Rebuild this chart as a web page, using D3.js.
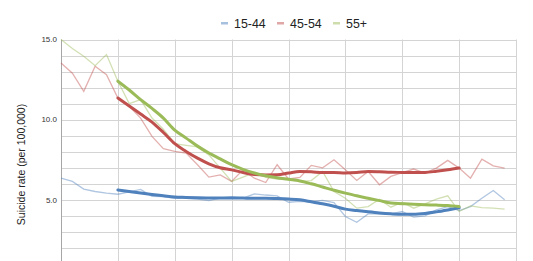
<!DOCTYPE html>
<html>
<head>
<meta charset="utf-8">
<script src="https://cdn.jsdelivr.net/npm/d3@7"></script>
<style>
  html, body { margin: 0; padding: 0; background: #fff; overflow: hidden; }
  svg { display: block; font-family: "Liberation Sans", Arial, sans-serif; }
</style>
</head>
<body>
<svg id="chart" width="533" height="261"></svg>
<script>
// Series names (legend order)
const seriesNames = ["15-44", "45-54", "55+"];
const seriesColors = ["#4f81bd", "#c0504d", "#9bbb59"];

// Yearly rates, one point per year (40 years)
const rate1544 = [6.35, 6.15, 5.67, 5.52, 5.42, 5.35, 5.5, 5.65, 5.22, 5.2,
  5.1, 5.1, 5.05, 4.95, 5.1, 5.2, 5.1, 5.37, 5.3, 5.25,
  4.85, 4.9, 4.88, 4.96, 4.83, 3.96, 3.6, 4.12, 4.12, 4.12,
  4.27, 3.92, 4.0, 4.37, 4.58, 4.33, 4.58, 5.1, 5.58, 5.0];
const rate4554 = [13.54, 12.9, 11.77, 13.33, 12.8, 11.35, 10.83, 10.1, 8.96, 8.19,
  8.02, 7.92, 7.19, 6.42, 6.56, 6.15, 6.87, 6.35, 6.08, 7.19,
  6.3, 6.4, 7.15, 7.0, 7.5, 6.87, 6.21, 6.77, 5.94, 6.46,
  6.7, 6.92, 6.67, 6.98, 7.46, 6.98, 6.35, 7.54, 7.12, 6.98];
const rate55 = [15.0, 14.44, 13.96, 13.37, 14.06, 12.4, 11.0, 11.25, 10.1, 9.4,
  8.5, 8.4, 8.3, 7.8, 6.98, 6.15, 6.42, 6.7, 6.4, 6.3,
  6.25, 6.15, 6.2, 6.77, 5.52, 5.1, 4.48, 4.58, 5.04, 4.54,
  4.85, 4.48, 4.75, 5.04, 5.25, 4.27, 4.62, 4.52, 4.48, 4.42];

// Trend lines, years 5..35
const trendStart = 5;
const trend1544 = [5.62, 5.52, 5.42, 5.33, 5.25, 5.17, 5.15, 5.13, 5.12, 5.12,
  5.12, 5.11, 5.1, 5.1, 5.08, 5.05, 5.0, 4.88, 4.75, 4.6,
  4.42, 4.33, 4.25, 4.18, 4.13, 4.1, 4.1, 4.15, 4.25, 4.37, 4.5];
const trend4554 = [11.35, 10.85, 10.35, 9.85, 9.2, 8.5, 8.02, 7.6, 7.25, 7.0,
  6.87, 6.7, 6.58, 6.55, 6.56, 6.67, 6.77, 6.75, 6.7, 6.7,
  6.67, 6.7, 6.77, 6.75, 6.72, 6.71, 6.7, 6.71, 6.78, 6.87, 6.98];
const trend55 = [12.4, 11.85, 11.25, 10.7, 10.1, 9.35, 8.85, 8.35, 7.92, 7.55,
  7.19, 6.9, 6.67, 6.5, 6.38, 6.28, 6.18, 6.0, 5.8, 5.6,
  5.42, 5.25, 5.1, 4.95, 4.8, 4.76, 4.72, 4.69, 4.67, 4.64, 4.58];

const yTicks = [5, 10, 15];

const svg = d3.select("#chart");
const plotLeft = 61, plotRight = 516, plotTop = 39.5, plotBottom = 280;

const x = d3.scaleLinear().domain([0, 40]).range([plotLeft, plotRight]);
const y = d3.scaleLinear().domain([0, 15]).range([plotBottom, plotTop]);

// Grid
const grid = svg.append("g");
grid.selectAll("line.h")
  .data(d3.range(1, 16))
  .join("line")
  .attr("class", "h")
  .attr("x1", plotLeft).attr("x2", plotRight)
  .attr("y1", d => Math.round(y(d)) + 0.5)
  .attr("y2", d => Math.round(y(d)) + 0.5)
  .attr("stroke", "#d4d4d4");
grid.selectAll("line.v")
  .data(d3.range(5, 41, 5))
  .join("line")
  .attr("class", "v")
  .attr("x1", d => Math.round(x(d)) + 0.5)
  .attr("x2", d => Math.round(x(d)) + 0.5)
  .attr("y1", plotTop).attr("y2", plotBottom)
  .attr("stroke", "#d4d4d4");

// Left axis
svg.append("line")
  .attr("x1", plotLeft + 0.5).attr("x2", plotLeft + 0.5)
  .attr("y1", plotTop).attr("y2", plotBottom)
  .attr("stroke", "#a6a6a6");

svg.append("g").selectAll("text")
  .data(yTicks)
  .join("text")
  .attr("x", plotLeft - 4)
  .attr("y", d => y(d))
  .attr("dy", "0.35em")
  .attr("text-anchor", "end")
  .attr("font-size", 8)
  .attr("fill", "#333")
  .text(d => d.toFixed(1));

svg.append("text")
  .attr("transform", "translate(24.5,164.5) rotate(-90)")
  .attr("text-anchor", "middle")
  .attr("font-size", 10.5)
  .attr("fill", "#222")
  .text("Suicide rate (per 100,000)");

// Lines
const rawSeries = [rate1544, rate4554, rate55];
const trendSeries = [trend1544, trend4554, trend55];

const rawLine = d3.line().x((d, i) => x(i)).y(d => y(d));
const trendLine = d3.line()
  .x((d, i) => x(i + trendStart))
  .y(d => y(d))
  .curve(d3.curveMonotoneX);

svg.append("g").selectAll("path")
  .data(rawSeries)
  .join("path")
  .attr("d", rawLine)
  .attr("fill", "none")
  .attr("stroke", (d, i) => seriesColors[i])
  .attr("stroke-opacity", 0.45)
  .attr("stroke-width", 1.3);

svg.append("g").selectAll("path")
  .data(trendSeries)
  .join("path")
  .attr("d", trendLine)
  .attr("fill", "none")
  .attr("stroke", (d, i) => seriesColors[i])
  .attr("stroke-width", 3)
  .attr("stroke-linecap", "round");

// Legend
const legendX = [221, 277, 333];
const legend = svg.append("g").selectAll("g")
  .data(seriesNames)
  .join("g")
  .attr("transform", (d, i) => `translate(${legendX[i]},0)`);
legend.append("rect")
  .attr("x", 0).attr("y", 22)
  .attr("width", 7).attr("height", 2.5)
  .attr("fill", (d, i) => seriesColors[i])
  .attr("fill-opacity", 0.5);
legend.append("text")
  .attr("x", 13).attr("y", 28)
  .attr("font-size", 12.4)
  .attr("fill", "#222")
  .text(d => d);
</script>
</body>
</html>
